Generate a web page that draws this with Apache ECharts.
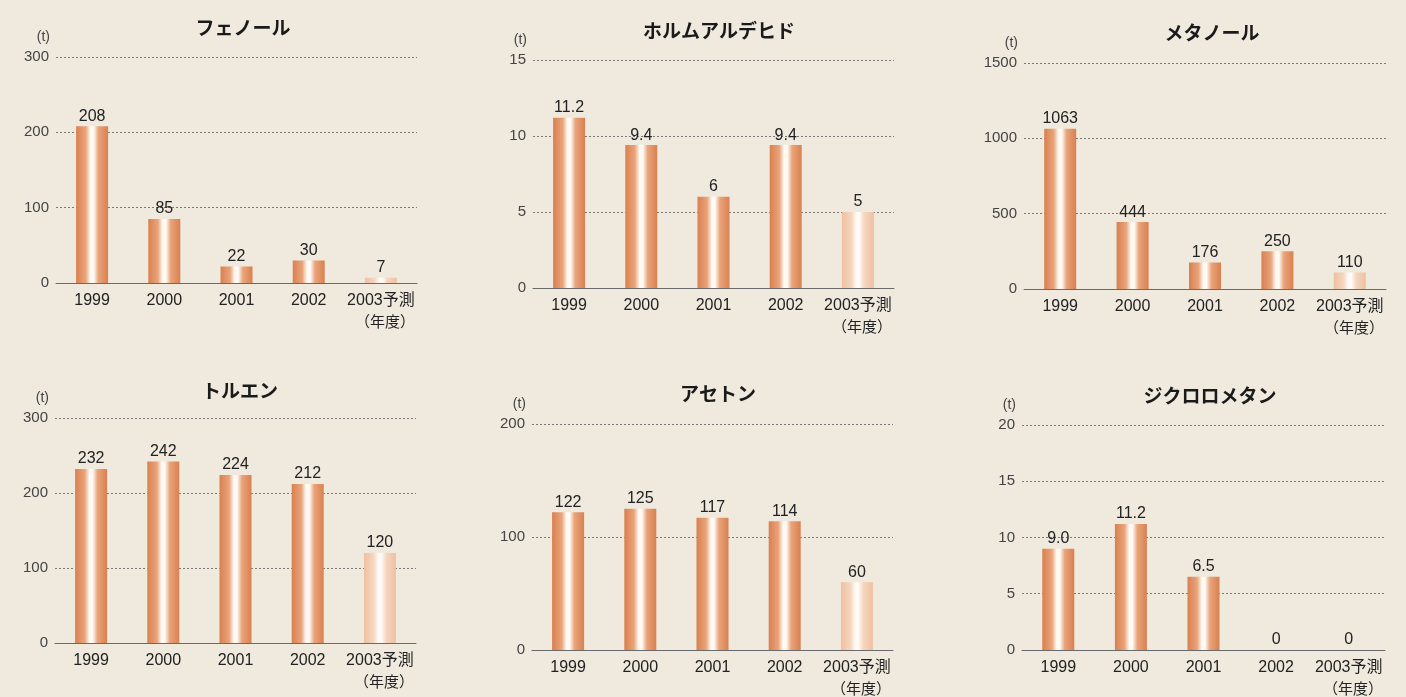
<!DOCTYPE html>
<html>
<head>
<meta charset="utf-8">
<script src="https://cdn.jsdelivr.net/npm/echarts@6/dist/echarts.min.js"></script>
<style>
  html, body { margin: 0; padding: 0; background: #efe9de; }
  #chart { width: 1406px; height: 697px; }
</style>
</head>
<body>
<div id="chart"></div>
<script>
// データ
const years = ['1999', '2000', '2001', '2002', '2003予測']
const titles = ['フェノール', 'ホルムアルデヒド', 'メタノール', 'トルエン', 'アセトン', 'ジクロロメタン']
const phenol = [208, 85, 22, 30, 7]
const formaldehyde = [11.2, 9.4, 6, 9.4, 5]
const methanol = [1063, 444, 176, 250, 110]
const toluene = [232, 242, 224, 212, 120]
const acetone = [122, 125, 117, 114, 60]
const dichloromethane = [9.0, 11.2, 6.5, 0, 0]
const yMax = [300, 15, 1500, 300, 200, 20]
const yInterval = [100, 5, 500, 100, 100, 5]
// ラベルの小数桁 (null はそのまま表示)
const labelDecimals = [null, null, null, null, null, 1]

const allValues = [phenol, formaldehyde, methanol, toluene, acetone, dichloromethane]

// 各パネルの位置
const panels = [
  { left: 56, top: 57, width: 361, height: 226, titleX: 238, titleY: 15 },
  { left: 533, top: 60, width: 361, height: 228, titleX: 714, titleY: 18 },
  { left: 1024, top: 63, width: 362, height: 226, titleX: 1207, titleY: 20 },
  { left: 55, top: 418, width: 361, height: 225, titleX: 235, titleY: 378 },
  { left: 532, top: 424, width: 361, height: 228, titleX: 713, titleY: 381 },
  { left: 1022, top: 425, width: 363, height: 229, titleX: 1205, titleY: 383 }
]

const font = '"Liberation Sans", "Noto Sans CJK JP", sans-serif'

const barGradient = (edge, mid, center) => new echarts.graphic.LinearGradient(0, 0, 1, 0, [
  { offset: 0, color: edge },
  { offset: 0.3, color: mid },
  { offset: 0.45, color: center },
  { offset: 0.55, color: center },
  { offset: 0.7, color: mid },
  { offset: 1, color: edge }
])
const normalColor = barGradient('#d98050', '#e9a47a', '#fffaf4')
const forecastColor = barGradient('#efc0a0', '#f5d6bf', '#fffaf5')

const chart = echarts.init(document.getElementById('chart'))

const option = {
  backgroundColor: '#efe9de',
  animation: false,
  textStyle: { fontFamily: font },
  title: [],
  grid: [],
  xAxis: [],
  yAxis: [],
  series: []
}

panels.forEach((p, i) => {
  option.title.push({
    text: titles[i],
    left: p.titleX,
    top: p.titleY,
    textAlign: 'center',
    textStyle: { fontSize: 19, fontWeight: 'bold', color: '#1a1a1a', fontFamily: font }
  })
  option.grid.push({ left: p.left, top: p.top, width: p.width, height: p.height, containLabel: false })
  option.xAxis.push({
    type: 'category',
    gridIndex: i,
    data: years,
    axisTick: { show: false },
    axisLine: { lineStyle: { color: '#6a6a6a', width: 1 } },
    axisLabel: { interval: 0, fontSize: 16, color: '#222', margin: 10, fontFamily: font },
    name: '（年度）',
    nameLocation: 'end',
    nameGap: -2,
    nameMoveOverlap: false,
    nameTextStyle: {
      fontSize: 15, color: '#222', align: 'right', verticalAlign: 'top',
      padding: [32, 0, 0, 0], fontFamily: font
    }
  })
  option.yAxis.push({
    type: 'value',
    gridIndex: i,
    min: 0,
    max: yMax[i],
    interval: yInterval[i],
    axisLine: { show: false },
    axisTick: { show: false },
    axisLabel: { fontSize: 15, color: '#444', margin: 7, fontFamily: font, formatter: (v) => String(v) },
    splitLine: { lineStyle: { color: '#7a7a7a', type: [2, 2], width: 1 } },
    name: '(t)',
    nameLocation: 'end',
    nameGap: 13,
    nameMoveOverlap: false,
    nameTextStyle: { fontSize: 14, color: '#444', align: 'right', padding: [0, 6, 0, 0], fontFamily: font }
  })
  const dec = labelDecimals[i]
  option.series.push({
    type: 'bar',
    xAxisIndex: i,
    yAxisIndex: i,
    barWidth: 32,
    data: allValues[i].map((v, j) => j === years.length - 1
      ? { value: v, itemStyle: { color: forecastColor } }
      : v),
    itemStyle: { color: normalColor },
    label: {
      show: true,
      position: 'top',
      distance: 2,
      fontSize: 16,
      color: '#222',
      fontFamily: font,
      formatter: (d) => (d.value === 0 || dec === null) ? String(d.value) : d.value.toFixed(dec)
    }
  })
})

chart.setOption(option)
</script>
</body>
</html>
